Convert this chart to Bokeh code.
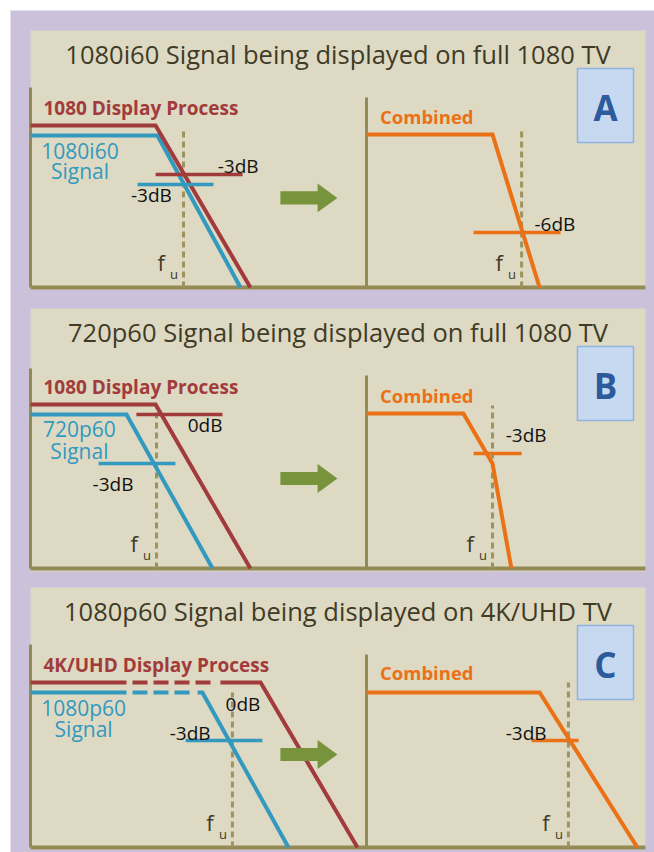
from bokeh.plotting import figure
from bokeh.models import Range1d
from bokeh.core.properties import value
from bokeh.embed import file_html
from bokeh.resources import INLINE

# ---------------- data (chart units: x = relative frequency, y = level above baseline) ----------------
PANEL_LETTERS = ["A", "B", "C"]
PANEL_TITLES = [
    "1080i60 Signal being displayed on full 1080 TV",
    "720p60 Signal being displayed on full 1080 TV",
    "1080p60 Signal being displayed on 4K/UHD TV",
]
DISPLAY_LABELS = ["1080 Display Process", "1080 Display Process", "4K/UHD Display Process"]
SIGNAL_NAMES = ["1080i60", "720p60", "1080p60"]
SIGNAL_WORD = "Signal"
COMBINED_LABEL = "Combined"
FU_MAIN, FU_SUB = "f", "u"

# left chart: display process response and signal response
DISPLAY_X = [[0, 4.17, 7.33], [0, 4.17, 7.33], [0, 7.67, 10.9]]
DISPLAY_Y = [[8.1, 8.1, 0], [8.2, 8.2, 0], [8.25, 8.25, 0]]
SIGNAL_X = [[0, 4.23, 7.0], [0, 3.2, 6.07], [0, 5.73, 8.6]]
SIGNAL_Y = [[7.6, 7.6, 0], [7.7, 7.7, 0], [7.75, 7.75, 0]]
# right chart: combined response
COMBINED_X = [[0, 4.2, 5.77], [0, 3.23, 4.2, 4.83], [0, 5.77, 9.03]]
COMBINED_Y = [[7.65, 7.65, 0], [7.75, 7.75, 5.25, 0], [7.75, 7.75, 0]]
# panel C: the part of the passband drawn dashed
C_DISPLAY_DASH = [3.4, 6.1]
C_SIGNAL_DASH = [3.4, 5.4]
C_DISPLAY_SOLID_FROM = 6.33
C_SIGNAL_SOLID_FROM = 5.57
C_SOLID_TO = 3.2

# upper frequency fu markers
FU_LEFT = [5.1, 4.2, 6.73]
FU_LEFT_TOP = [8.0, 8.05, 7.75]
FU_RIGHT = [5.17, 4.2, 6.73]
FU_RIGHT_TOP = [8.0, 8.15, 8.25]
LEFT_AXIS_TOP = [10.0, 10.0, 10.15]
RIGHT_AXIS_TOP = [9.5, 9.65, 9.65]

# level marker lines
LINE_PANEL = [0, 0, 0, 1, 1, 1, 2, 2]
LINE_CHART = ["L", "L", "R", "L", "L", "R", "L", "R"]
LINE_SERIES = ["display", "signal", "combined", "display", "signal", "combined", "signal", "combined"]
LINE_LEVEL = [5.65, 5.15, 2.75, 7.7, 5.25, 5.75, 5.35, 5.35]
LINE_X0 = [4.17, 3.57, 3.57, 3.53, 2.27, 3.57, 5.17, 5.5]
LINE_X1 = [7.07, 6.1, 6.47, 6.4, 4.83, 5.17, 7.73, 7.07]

# dB labels
DB_PANEL = [0, 0, 0, 1, 1, 1, 2, 2, 2]
DB_CHART = ["L", "L", "R", "L", "L", "R", "L", "L", "R"]
DB_TEXT = ["-3dB", "-3dB", "-6dB", "0dB", "-3dB", "-3dB", "0dB", "-3dB", "-3dB"]
DB_X = [6.92, 4.03, 6.28, 5.82, 2.75, 5.32, 7.08, 5.32, 5.32]
DB_Y = [6.1, 4.65, 3.2, 7.2, 4.25, 6.7, 7.2, 5.75, 5.75]

# label positions (chart units)
DISPLAY_LABEL_Y = [9.0, 9.1, 9.15]
COMBINED_LABEL_Y = [8.55, 8.65, 8.75]
SIGNAL_LABEL_X = [1.65, 1.63, 1.77]
SIGNAL_LABEL_Y1 = [6.85, 7.0, 7.0]
SIGNAL_LABEL_Y2 = [5.85, 5.9, 5.95]
ARROW_Y = [4.48, 4.5, 4.65]

# ---------------- layout / style ----------------
W, H = 654, 852
X0, Y0 = 0, 0
SX, SY = 30.0, 20.0
PANEL_TOP = [30, 308, 587]
PANEL_BOTTOM = [289, 571, 849]
BASE = [287, 568, 847]
PANEL_L, PANEL_R = 30, 645
LEFT_OX, RIGHT_OX = 30, 366

PURPLE = "#CCC1DA"
BEIGE = "#DDD9C3"
AXIS = "#948A54"
FU_COLOR = "#9D935F"
RED = "#A23B3B"
BLUE = "#3399BF"
ORANGE = "#EB7116"
GREEN = "#77933C"
DARK = "#3F3B26"
LETTER = "#2D5A9B"
BOX_FILL = "#C6D9F1"
BOX_LINE = "#8EB4E3"
FONT = value("Open Sans")
SERIES_COLOR = {"display": RED, "signal": BLUE, "combined": ORANGE}

p = figure(width=W, height=H, output_backend="svg", toolbar_location=None,
           x_range=Range1d(X0, X0 + W), y_range=Range1d(Y0 + H, Y0),
           min_border=0, x_axis_location=None, y_axis_location=None)
p.grid.visible = False
p.outline_line_color = None
p.background_fill_color = "white"
p.border_fill_color = "white"

xr, yr = {}, {}
for i in range(3):
    for side, ox in (("L", LEFT_OX), ("R", RIGHT_OX)):
        key = f"{side}{i}"
        xr[key] = Range1d((X0 - ox) / SX, (X0 + W - ox) / SX)
        yr[key] = Range1d((BASE[i] - (Y0 + H)) / SY, (BASE[i] - Y0) / SY)
p.extra_x_ranges = xr
p.extra_y_ranges = yr

# background
p.quad(left=10, right=700, top=10, bottom=900, fill_color=PURPLE, line_color=None)
for i in range(3):
    p.quad(left=PANEL_L, right=PANEL_R, top=PANEL_TOP[i], bottom=PANEL_BOTTOM[i],
           fill_color=BEIGE, line_color=None)
    p.text(x=[(PANEL_L + PANEL_R) / 2], y=[PANEL_TOP[i] + 23], text=[PANEL_TITLES[i]],
           text_font=FONT, text_font_size=value("25.5px"), text_color=DARK,
           text_align="center", text_baseline="middle")
    # letter box
    p.quad(left=577, right=633, top=PANEL_TOP[i] + 38, bottom=PANEL_TOP[i] + 112,
           fill_color=BOX_FILL, line_color=BOX_LINE, line_width=1.5)
    p.text(x=[605], y=[PANEL_TOP[i] + 77], text=[PANEL_LETTERS[i]],
           text_font=FONT, text_font_size=value("35px"), text_font_style="bold",
           text_color=LETTER, text_align="center", text_baseline="middle")
    # bottom axis across the panel
    p.line([PANEL_L, PANEL_R], [BASE[i], BASE[i]], line_color=AXIS, line_width=4)

for i in range(3):
    L = dict(x_range_name=f"L{i}", y_range_name=f"L{i}")
    R = dict(x_range_name=f"R{i}", y_range_name=f"R{i}")
    # vertical axes
    p.line([0, 0], [0, LEFT_AXIS_TOP[i]], line_color=AXIS, line_width=3, **L)
    p.line([0, 0], [0, RIGHT_AXIS_TOP[i]], line_color=AXIS, line_width=3, **R)
    # fu markers
    p.line([FU_LEFT[i]] * 2, [0, FU_LEFT_TOP[i]], line_color=FU_COLOR, line_width=3,
           line_dash="6 4", **L)
    p.line([FU_RIGHT[i]] * 2, [0, FU_RIGHT_TOP[i]], line_color=FU_COLOR, line_width=3,
           line_dash="6 4", **R)
    for fx, kw in ((FU_LEFT[i], L), (FU_RIGHT[i], R)):
        p.text(x=[fx - 0.87], y=[1.28], text=[FU_MAIN], text_font=FONT,
               text_font_size=value("22px"), text_color=DARK, text_align="left",
               text_baseline="middle", **kw)
        p.text(x=[fx - 0.45], y=[0.7], text=[FU_SUB], text_font=FONT,
               text_font_size=value("13px"), text_color=DARK, text_align="left",
               text_baseline="middle", **kw)

    # curves
    if i < 2:
        p.line(SIGNAL_X[i], SIGNAL_Y[i], line_color=BLUE, line_width=4, line_join="miter", **L)
        p.line(DISPLAY_X[i], DISPLAY_Y[i], line_color=RED, line_width=4, line_join="miter", **L)
    else:
        for xs, ys, dash, solid_from, col in (
                (SIGNAL_X[i], SIGNAL_Y[i], C_SIGNAL_DASH, C_SIGNAL_SOLID_FROM, BLUE),
                (DISPLAY_X[i], DISPLAY_Y[i], C_DISPLAY_DASH, C_DISPLAY_SOLID_FROM, RED)):
            lvl = ys[0]
            p.line([0, C_SOLID_TO], [lvl, lvl], line_color=col, line_width=4, **L)
            p.line(dash, [lvl, lvl], line_color=col, line_width=4, line_dash="15 6", **L)
            p.line([solid_from] + xs[1:], [lvl] + ys[1:], line_color=col, line_width=4,
                   line_join="miter", **L)
    p.line(COMBINED_X[i], COMBINED_Y[i], line_color=ORANGE, line_width=4, line_join="miter", **R)

    # labels
    p.text(x=[0.43], y=[DISPLAY_LABEL_Y[i]], text=[DISPLAY_LABELS[i]], text_font=FONT,
           text_font_size=value("19px"), text_font_style="bold", text_color=RED,
           text_align="left", text_baseline="middle", **L)
    p.text(x=[SIGNAL_LABEL_X[i]] * 2, y=[SIGNAL_LABEL_Y1[i], SIGNAL_LABEL_Y2[i]],
           text=[SIGNAL_NAMES[i], SIGNAL_WORD], text_font=FONT,
           text_font_size=value("21px"), text_color=BLUE,
           text_align="center", text_baseline="middle", **L)
    p.text(x=[0.45], y=[COMBINED_LABEL_Y[i]], text=[COMBINED_LABEL], text_font=FONT,
           text_font_size=value("18.5px"), text_font_style="bold", text_color=ORANGE,
           text_align="left", text_baseline="middle", **R)

# level marker lines
for k in range(len(LINE_LEVEL)):
    key = f"{LINE_CHART[k]}{LINE_PANEL[k]}"
    p.line([LINE_X0[k], LINE_X1[k]], [LINE_LEVEL[k]] * 2,
           line_color=SERIES_COLOR[LINE_SERIES[k]], line_width=3.5,
           x_range_name=key, y_range_name=key)

# arrows (drawn over the curves)
ARROW_SHAPE_X = [8.33, 9.57, 9.57, 10.23, 9.57, 9.57, 8.33]
ARROW_SHAPE_DY = [0.33, 0.33, 0.72, 0, -0.72, -0.33, -0.33]
for i in range(3):
    p.patch(ARROW_SHAPE_X, [ARROW_Y[i] + d for d in ARROW_SHAPE_DY],
            fill_color=GREEN, line_color=None,
            x_range_name=f"L{i}", y_range_name=f"L{i}")

# dB labels
for k in range(len(DB_TEXT)):
    key = f"{DB_CHART[k]}{DB_PANEL[k]}"
    p.text(x=[DB_X[k]], y=[DB_Y[k]], text=[DB_TEXT[k]], text_font=FONT,
           text_font_size=value("19px"), text_color="#111111",
           text_align="center", text_baseline="middle",
           x_range_name=key, y_range_name=key)

open("out.html", "w").write(file_html(p, INLINE))
